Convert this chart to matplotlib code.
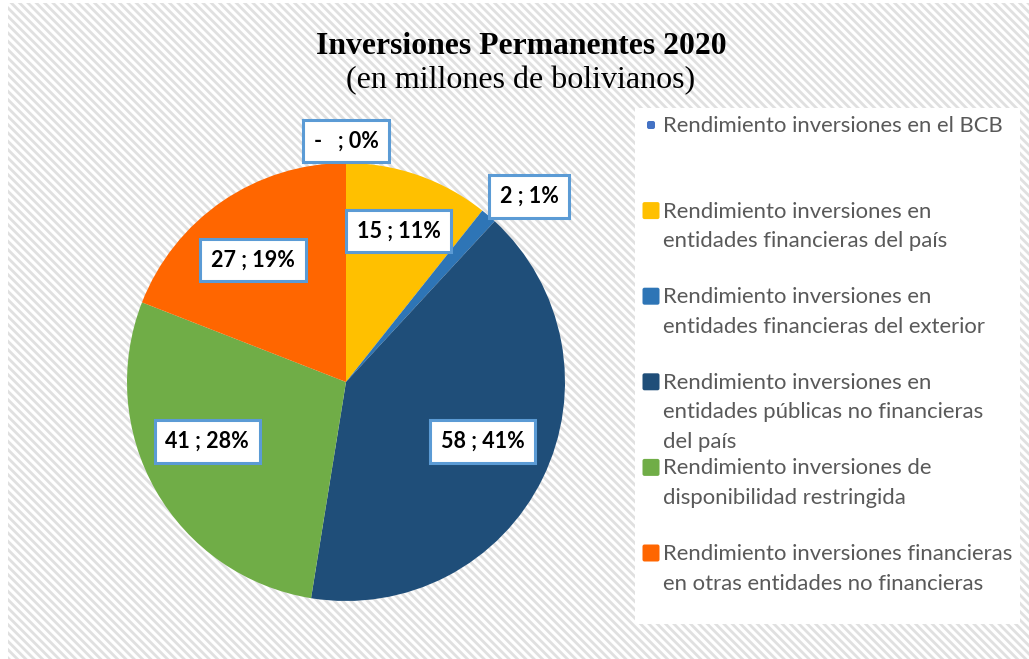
import numpy as np
import matplotlib.pyplot as plt
from matplotlib.patches import Rectangle, FancyBboxPatch

# data
categorias = [
    "Rendimiento inversiones en el BCB",
    "Rendimiento inversiones en\nentidades financieras del país",
    "Rendimiento inversiones en\nentidades financieras del exterior",
    "Rendimiento inversiones en\nentidades públicas no financieras\ndel país",
    "Rendimiento inversiones de\ndisponibilidad restringida",
    "Rendimiento inversiones financieras\nen otras entidades no financieras",
]
valores = [0.0, 15.3, 1.7, 58.2, 40.6, 27.3]
colores = ["#4472c4", "#ffc000", "#2e75b6", "#1f4e79", "#70ad47", "#ff6600"]
# label placement (radius fraction, angle shift in degrees)
dist_etiqueta = [1.10, 0.73, 1.19, 0.68, 0.69, 0.70]
giro_etiqueta = [0, 0, -4, 2.5, -6.5, 3]

W, H = 1029, 659
fig = plt.figure(figsize=(W / 100, H / 100), dpi=100)
plt.rcParams['hatch.linewidth'] = 2.0

# background + legend layer (pixel coords)
bg = fig.add_axes([0, 0, 1, 1], zorder=0)
bg.set_xlim(0, W)
bg.set_ylim(H, 0)
bg.axis('off')
bg.add_patch(Rectangle((8, 3), W - 8, H - 3, facecolor='white', edgecolor='#e0e0e0',
                       hatch='\\\\\\\\', linewidth=0))
bg.add_patch(Rectangle((635, 108), 385, 516, facecolor='white', edgecolor='none'))

# title
bg.text(521, 46, "Inversiones Permanentes 2020", ha='center', va='center',
        family='Liberation Serif', fontweight='bold', fontsize=22.8, color='black')
bg.text(521, 81, "(en millones de bolivianos)", ha='center', va='center',
        family='Liberation Serif', fontsize=23, color='black')

# legend drawn by hand: equal slot per entry like Excel
for i, (lab, c) in enumerate(zip(categorias, colores)):
    y = 125 + i * 85.6
    s = 8 if valores[i] == 0 else 17
    bg.add_patch(FancyBboxPatch((651 - s / 2, y - s / 2), s, s,
                                boxstyle="round,pad=0,rounding_size=2",
                                facecolor=c, edgecolor='none'))
    bg.text(663, y - 9, lab, ha='left', va='top', family='Lato', fontsize=15.9,
            color='#595959', linespacing=1.6)

# pie
r_px = 219
cx, cy = 346, 382
half = r_px * 1.25
ax = fig.add_axes([(cx - half) / W, (H - cy - half) / H, 2 * half / W, 2 * half / H], zorder=1)
ax.set_xlim(-1.25, 1.25)
ax.set_ylim(-1.25, 1.25)
ax.set_aspect('equal')
ax.axis('off')
wedges, _ = ax.pie(valores, colors=colores, startangle=90, counterclock=False,
                   radius=1.0, wedgeprops=dict(linewidth=0))

total = sum(valores)
for w, v, d, g in zip(wedges, valores, dist_etiqueta, giro_etiqueta):
    ang = np.deg2rad((w.theta1 + w.theta2) / 2 + g)
    pct = round(v / total * 100)
    num = "-  " if v == 0 else f"{v:.0f}"
    ax.text(d * np.cos(ang), d * np.sin(ang), f"{num} ; {pct}%", ha='center', va='center',
            family='Lato', fontweight='bold', fontsize=15.5, color='black', zorder=5,
            bbox=dict(boxstyle='square,pad=0.5', facecolor='white', edgecolor='#5b9bd5',
                      linewidth=2.2))

fig.savefig("out.png", dpi=100)
